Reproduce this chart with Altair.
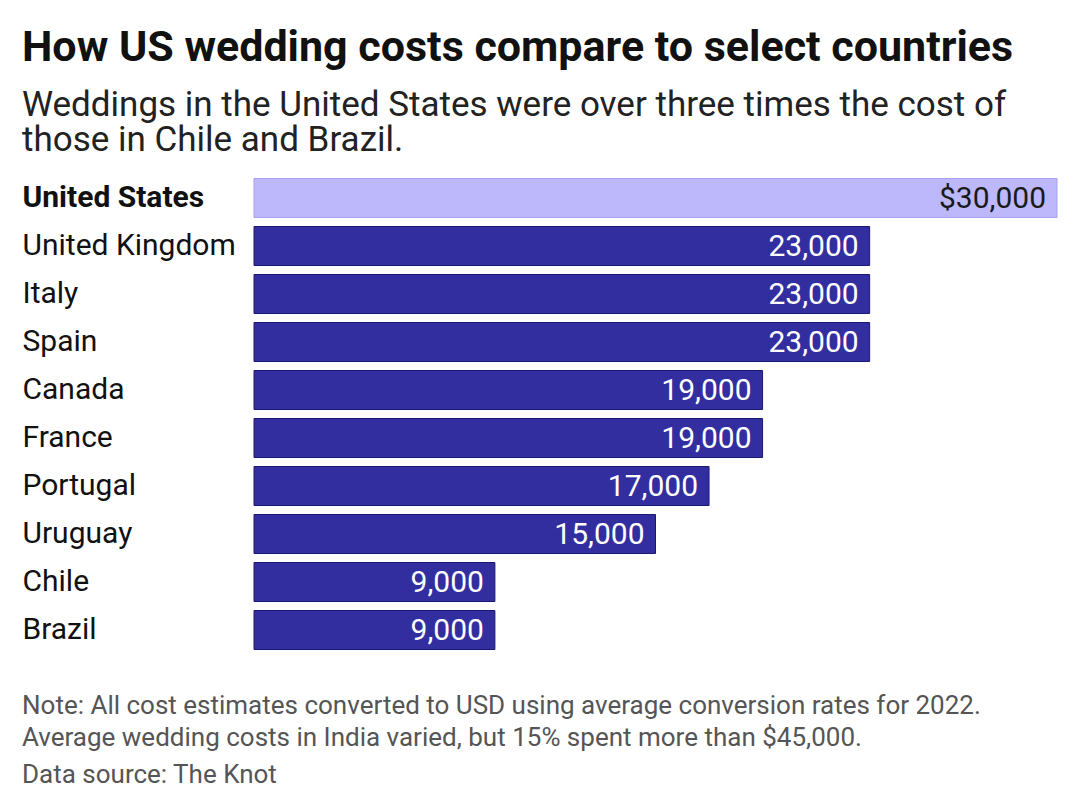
import altair as alt
import pandas as pd

countries = ["United States", "United Kingdom", "Italy", "Spain", "Canada",
             "France", "Portugal", "Uruguay", "Chile", "Brazil"]
costs = [30000, 23000, 23000, 23000, 19000, 19000, 17000, 15000, 9000, 9000]
labels = ["$30,000", "23,000", "23,000", "23,000", "19,000", "19,000",
          "17,000", "15,000", "9,000", "9,000"]
highlight = ["US", "other", "other", "other", "other", "other", "other",
             "other", "other", "other"]

notes = [
    "Note: All cost estimates converted to USD using average conversion rates for 2022.",
    "Average wedding costs in India varied, but 15% spent more than $45,000.",
    "Data source: The Knot",
]

df = pd.DataFrame({"country": countries, "cost": costs, "label": labels, "group": highlight})

FONT = "Roboto"
W, H = 803, 480
note_y = [H + 59.5, H + 91.5, H + 128.5]

y_enc = alt.Y("country:N", sort=countries,
              scale=alt.Scale(paddingInner=0.1875, paddingOuter=0.09375),
              axis=alt.Axis(title=None, ticks=False, domain=False, labelAlign="left",
                            labelPadding=232, labelFontSize=30, labelFont=FONT,
                            labelColor="#111111", labelLimit=300,
                            labelFontWeight=alt.condition(alt.datum.value == "United States",
                                                          alt.value("bold"), alt.value("normal"))))
x_enc = alt.X("cost:Q", scale=alt.Scale(domain=[0, 30000], nice=False), axis=None)

base = alt.Chart(df)

bars = base.mark_bar(strokeWidth=1).encode(
    y=y_enc, x=x_enc,
    color=alt.Color("group:N", scale=alt.Scale(domain=["US", "other"], range=["#bcb8fb", "#332e9f"]), legend=None),
    stroke=alt.Stroke("group:N", scale=alt.Scale(domain=["US", "other"], range=["#a6a0ef", "#1c1770"]), legend=None),
)

text = base.mark_text(align="right", baseline="middle", dx=-11, dy=1, fontSize=30, font=FONT).encode(
    y=alt.Y("country:N", sort=countries), x=x_enc, text="label:N",
    fill=alt.Fill("group:N", scale=alt.Scale(domain=["US", "other"], range=["#1a1a1a", "#ffffff"]), legend=None),
)

note_layers = []
for n, yy in zip(notes, note_y):
    note_layers.append(
        alt.Chart(pd.DataFrame({"note": [n]})).mark_text(
            align="left", baseline="alphabetic", fontSize=26, font=FONT, color="#555555"
        ).encode(x=alt.value(-232), y=alt.value(yy), text="note:N")
    )

chart = alt.layer(bars, text, *note_layers).resolve_scale(fill="independent", stroke="independent").properties(
    width=W, height=H,
    padding={"left": 14, "top": 19, "right": 10, "bottom": 10},
    title=alt.TitleParams(
        text="How US wedding costs compare to select countries",
        subtitle=["Weddings in the United States were over three times the cost of",
                  "those in Chile and Brazil."],
        anchor="start", font=FONT, fontSize=43, fontWeight="bold", color="#111111",
        subtitleFont=FONT, subtitleFontSize=35, subtitleColor="#222222",
        subtitleLineHeight=35, subtitlePadding=18, offset=16,
    ),
).configure_view(stroke=None)

chart.save("out.html", embed_options={"renderer": "svg", "actions": False})
